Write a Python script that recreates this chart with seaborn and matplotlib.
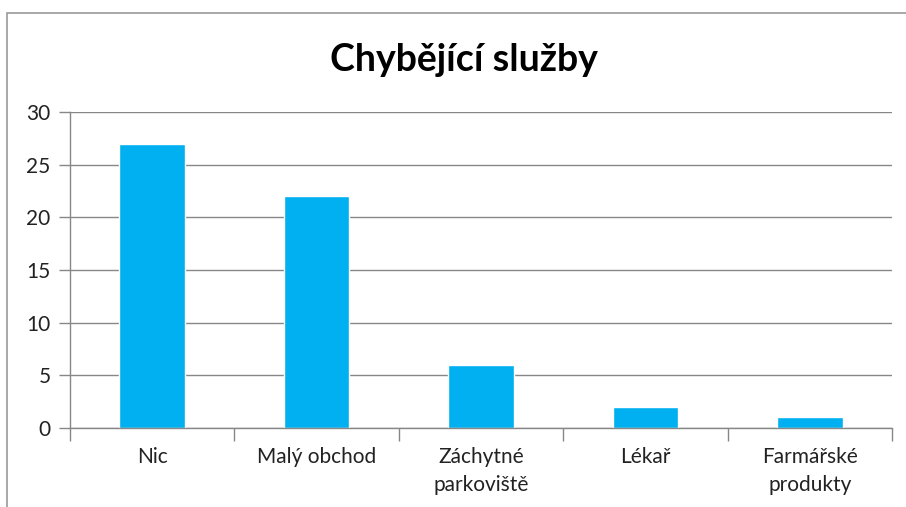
import matplotlib
matplotlib.use("Agg")
import matplotlib.pyplot as plt
from matplotlib.patches import Rectangle
import seaborn as sns
import pandas as pd

# ── Data ──────────────────────────────────────────────────
categories = ["Nic", "Malý obchod", "Záchytné\nparkoviště", "Lékař", "Farmářské\nprodukty"]
counts = [27, 22, 6, 2, 1]
title = "Chybějící služby"

BAR_COLOR = "#00B0F0"
GRID_COLOR = "#878787"

sns.set_theme(style="white")
plt.rcParams["font.family"] = ["Lato", "DejaVu Sans"]

df = pd.DataFrame({"kategorie": categories, "pocet": counts})

fig = plt.figure(figsize=(9.06, 5.07), dpi=100)
ax = fig.add_axes([70 / 906, 1 - 428 / 507, (892 - 70) / 906, (428 - 112) / 507])

sns.barplot(data=df, x="kategorie", y="pocet", color=BAR_COLOR,
            width=0.4, saturation=1, ax=ax)

ax.set_ylim(0, 30)
ax.set_xlim(-0.5, len(categories) - 0.5)
ax.set_yticks(range(0, 31, 5))
ax.yaxis.grid(True, color=GRID_COLOR, linewidth=1)
ax.set_axisbelow(True)
ax.set_xlabel("")
ax.set_ylabel("")

for side in ["top", "right"]:
    ax.spines[side].set_visible(False)
for side in ["left", "bottom"]:
    ax.spines[side].set_color(GRID_COLOR)
    ax.spines[side].set_linewidth(1)

# y ticks outside, x ticks at category boundaries
ax.tick_params(axis="y", length=8, color=GRID_COLOR, width=1, labelsize=15,
               labelcolor="#222222", pad=6, left=True)
ax.set_xticks([i for i in range(len(categories))])
ax.set_xticklabels(categories, fontsize=15, color="#222222", linespacing=1.45)
ax.tick_params(axis="x", length=0, pad=14)
ax.set_xticks([i - 0.5 for i in range(len(categories) + 1)], minor=True)
ax.tick_params(axis="x", which="minor", length=9, color=GRID_COLOR, width=1, bottom=True)

for lbl in ax.get_xticklabels():
    lbl.set_verticalalignment("top")

fig.text(464 / 906, 1 - 60 / 507, title, ha="center", va="center",
         fontsize=27, fontweight="bold", color="black")

# chart frame
fig.patches.append(Rectangle((7 / 906, -0.1), 1.2, 1 - 13 / 507 + 0.1,
                             transform=fig.transFigure, fill=False,
                             edgecolor="#9a9a9a", linewidth=1.2))

fig.savefig("out.png", dpi=100)
